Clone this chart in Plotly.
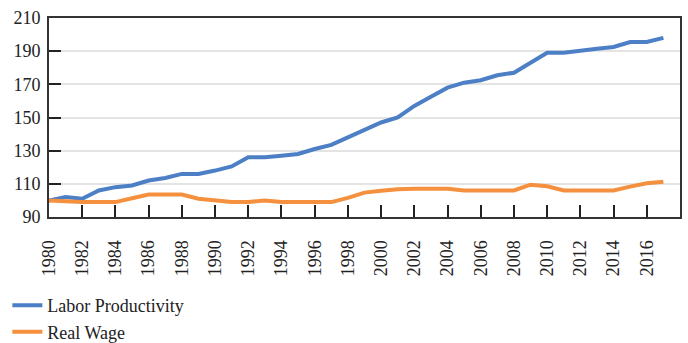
import plotly.graph_objects as go

years = list(range(1980, 2018))
labor_productivity = [100, 102, 101, 106, 108, 109, 112, 113.5, 116, 116, 118, 120.5,
                      126, 126, 127, 128, 131, 133.5, 138, 142.5, 147, 150,
                      157, 162.5, 168, 171, 172.5, 175.5, 177, 183, 189, 189,
                      190.5, 191.5, 192.5, 195.5, 195.5, 198]
real_wage = [100, 99.2, 99, 99, 99, 101.3, 103.5, 103.5, 103.5, 101, 100, 99,
             99, 100, 99, 99, 99, 99, 101.5, 104.7, 105.8, 106.8,
             107, 107, 107, 106, 106, 106, 106, 109.5, 108.5, 106,
             106, 106, 106, 108.3, 110.3, 111.3]
x_ticks = list(range(1980, 2017, 2))
y_ticks = list(range(90, 211, 20))

BLUE = "#4c7fc6"
ORANGE = "#f5913e"
FONT = "Liberation Serif"

fig = go.Figure()
fig.add_trace(go.Scatter(x=years, y=labor_productivity, mode="lines",
                         name="Labor Productivity",
                         line=dict(color=BLUE, width=4)))
fig.add_trace(go.Scatter(x=years, y=real_wage, mode="lines",
                         name="Real Wage",
                         line=dict(color=ORANGE, width=4)))

fig.update_layout(
    width=688, height=343,
    margin=dict(l=49, r=8, t=18, b=126, autoexpand=False),
    paper_bgcolor="white", plot_bgcolor="white",
    font=dict(family=FONT, size=18, color="#222222"),
    showlegend=True,
    legend=dict(orientation="v", x=-0.066, xanchor="left",
                y=-0.352, yanchor="top",
                font=dict(family=FONT, size=18, color="#222222"),
                tracegroupgap=0, itemwidth=30, bgcolor="rgba(0,0,0,0)"),
)
fig.update_xaxes(
    range=[1980, 2018], tickmode="array", tickvals=x_ticks,
    ticktext=[str(v) for v in x_ticks], tickangle=-90,
    ticks="inside", ticklen=12, tickwidth=2, tickcolor="#222222",
    ticklabelstandoff=14,
    showline=True, linecolor="#333333", linewidth=2, mirror=True,
    showgrid=False, zeroline=False,
)
fig.update_yaxes(
    range=[90, 210], tickmode="array", tickvals=y_ticks,
    ticks="inside", ticklen=12, tickwidth=2, tickcolor="#222222",
    ticklabelstandoff=3,
    showline=True, linecolor="#333333", linewidth=2, mirror=True,
    showgrid=True, gridcolor="#e4e4e4", gridwidth=2, zeroline=False,
)

fig.write_html("out.html")
